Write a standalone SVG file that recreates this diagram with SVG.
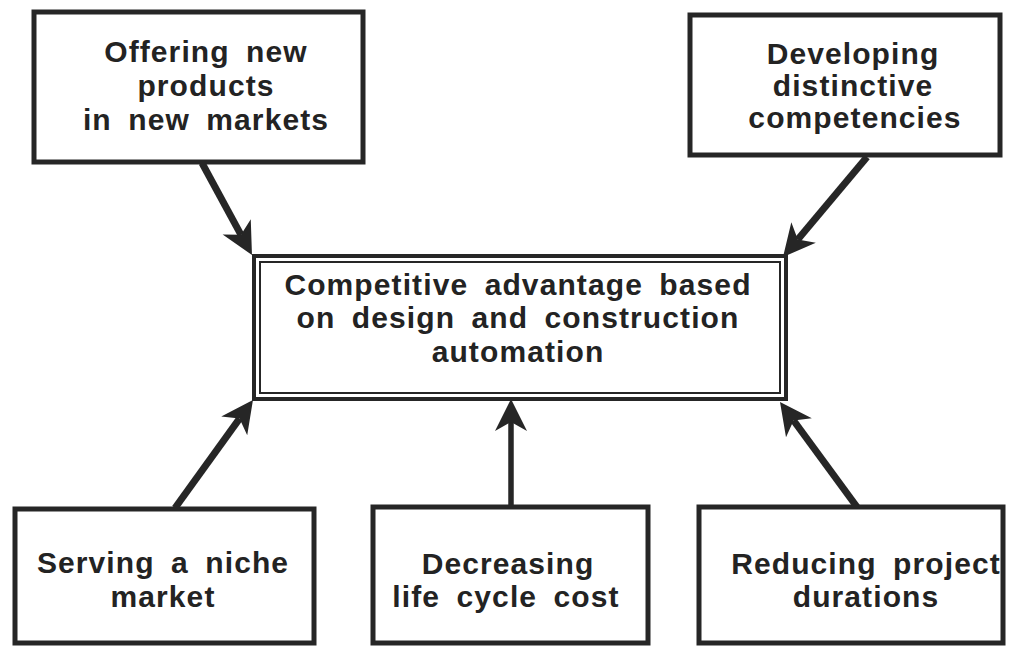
<svg xmlns="http://www.w3.org/2000/svg" width="1013" height="647" viewBox="0 0 1013 647">
  <style>
    .box { fill: #ffffff; stroke: #262626; stroke-width: 5; }
    .outer { fill: #ffffff; stroke: #262626; stroke-width: 4; }
    .inner { fill: none; stroke: #262626; stroke-width: 2; }
    .lbl { font-family: "Liberation Sans", Arial, sans-serif; font-weight: bold; font-size: 30px; fill: #232323; text-anchor: middle; letter-spacing: 1.1px; word-spacing: 7px; }
    .arrow { stroke: #262626; stroke-width: 7; fill: none; marker-end: url(#head); }
  </style>
  <defs>
    <marker id="head" markerUnits="userSpaceOnUse" orient="auto" refX="0" refY="0" markerWidth="40" markerHeight="40" overflow="visible">
      <path d="M23,0 L-9,-16 L0,0 L-9,16 Z" fill="#262626"/>
    </marker>
  </defs>
  <rect width="1013" height="647" fill="#ffffff"/>

  <g id="connectors">
    <line class="arrow" x1="202" y1="163" x2="241" y2="234.8"/>
    <line class="arrow" x1="867" y1="157" x2="797.8" y2="239.4"/>
    <line class="arrow" x1="175" y1="508" x2="239.5" y2="418.6"/>
    <line class="arrow" x1="511" y1="507" x2="511" y2="422" style="stroke-width:5.5"/>
    <line class="arrow" x1="857" y1="507" x2="793.6" y2="420.5"/>
  </g>

  <g id="new-products">
    <rect class="box" x="34" y="12" width="329" height="150"/>
    <text class="lbl" x="206" y="62">Offering new</text>
    <text class="lbl" x="206" y="96">products</text>
    <text class="lbl" x="206" y="130">in new markets</text>
  </g>

  <g id="competencies">
    <rect class="box" x="690" y="15" width="310" height="140"/>
    <text class="lbl" x="853" y="64">Developing</text>
    <text class="lbl" x="853" y="96">distinctive</text>
    <text class="lbl" x="855" y="128">competencies</text>
  </g>

  <g id="competitive-advantage">
    <rect class="outer" x="254" y="256" width="532" height="143"/>
    <rect class="inner" x="260" y="262" width="520" height="131"/>
    <text class="lbl" x="518" y="295">Competitive advantage based</text>
    <text class="lbl" x="518" y="328">on design and construction</text>
    <text class="lbl" x="518" y="362">automation</text>
  </g>

  <g id="niche-market">
    <rect class="box" x="15" y="509" width="299" height="134"/>
    <text class="lbl" x="163" y="573">Serving a niche</text>
    <text class="lbl" x="163" y="607">market</text>
  </g>

  <g id="life-cycle-cost">
    <rect class="box" x="373" y="507" width="275" height="136"/>
    <text class="lbl" x="508" y="574">Decreasing</text>
    <text class="lbl" x="506" y="607">life cycle cost</text>
  </g>

  <g id="project-durations">
    <rect class="box" x="699" y="507" width="304" height="136"/>
    <text class="lbl" x="866" y="574">Reducing project</text>
    <text class="lbl" x="866" y="607">durations</text>
  </g>
</svg>
